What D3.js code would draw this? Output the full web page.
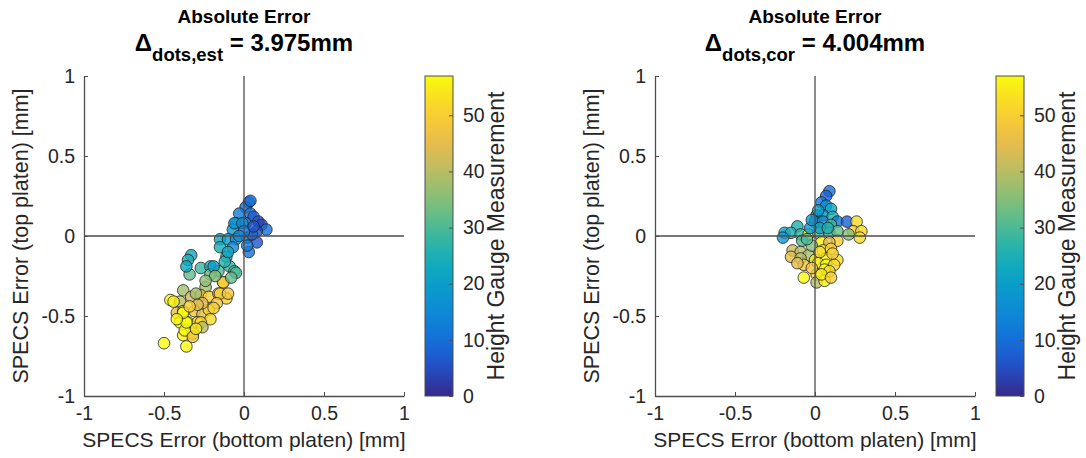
<!DOCTYPE html>
<html>
<head>
<meta charset="utf-8">
<script src="https://cdn.jsdelivr.net/npm/d3@7"></script>
<style>
  body { margin: 0; background: #fff; }
  text { font-family: "Liberation Sans", Arial, sans-serif; fill: #262626; }
</style>
</head>
<body>
<svg id="chart" width="1086" height="458"></svg>
<script>
// tick values
const axisTicks = [-1, -0.5, 0, 0.5, 1];
const cbarTicks = [0, 10, 20, 30, 40, 50];
const cbarMax = 57;

// parula colormap (sampled)
const parula = ["#352a87", "#2053d4", "#1079da", "#0c93d2", "#07a9c2", "#38b99e",
                "#7cbf7b", "#b7bd64", "#f1b94a", "#f9d32a", "#f9fb0e"];

// left panel: estimated
const estBottom = [0.03, 0.01, -0.03, 0.04, 0.06, 0.09, -0.05, 0.01, 0.11, 0.14, 0.08, -0.07, -0.15, -0.10, -0.05,
  0.02, 0.08, 0.03, -0.15, -0.11, -0.33, -0.35, -0.27, -0.34, -0.21, -0.16, -0.09, -0.06, -0.21, -0.13,
  -0.24, -0.38, -0.46, -0.40, -0.33, -0.27, -0.22, -0.16, -0.11, -0.42, -0.38, -0.31, -0.26, -0.22, -0.21,
  -0.40, -0.35, -0.29, -0.38, -0.32, -0.37, -0.50, -0.36, -0.06, -0.01, -0.07, -0.36, -0.19, -0.05, -0.13,
  -0.30, -0.15, -0.10, -0.44, -0.26, -0.17, -0.36, -0.27, -0.26, -0.32, -0.38, 0.04, 0.02, 0.05, -0.12,
  0.00, -0.03, 0.06, -0.10, -0.18, -0.08, -0.24, -0.29, -0.34, -0.19, -0.30, -0.42];
const estTop = [0.21, 0.18, 0.14, 0.14, 0.12, 0.09, 0.08, 0.08, 0.07, 0.04, 0.03, 0.04, -0.02, -0.02, -0.02,
  -0.01, -0.04, -0.10, -0.07, -0.13, -0.12, -0.15, -0.20, -0.24, -0.19, -0.22, -0.19, -0.22, -0.24, -0.29,
  -0.32, -0.34, -0.40, -0.41, -0.38, -0.37, -0.38, -0.36, -0.39, -0.48, -0.47, -0.47, -0.49, -0.46, -0.52,
  -0.54, -0.54, -0.54, -0.62, -0.61, -0.59, -0.67, -0.69, 0.08, 0.08, -0.07, -0.19, -0.19, -0.23, -0.29,
  -0.36, -0.36, -0.36, -0.41, -0.42, -0.42, -0.54, -0.54, -0.57, -0.63, -0.48, 0.22, -0.06, 0.01, -0.16,
  0.03, 0.00, 0.06, -0.10, -0.25, -0.26, -0.28, -0.43, -0.44, -0.45, -0.58, -0.52];
const estHeight = [9, 10, 12, 10, 7, 5, 15, 12, 3, 10, 5, 18, 22, 20, 17,
  10, 6, 10, 24, 25, 22, 25, 28, 32, 25, 30, 28, 30, 33, 45,
  38, 38, 57, 40, 42, 48, 50, 47, 50, 45, 55, 48, 45, 52, 52,
  57, 55, 52, 56, 56, 57, 58, 57, 18, 16, 15, 22, 20, 30, 50,
  38, 50, 48, 55, 45, 48, 57, 52, 40, 48, 57, 10, 12, 8, 26,
  12, 14, 6, 22, 35, 32, 36, 44, 50, 50, 54, 56];

// right panel: corrected
const corBottom = [0.09, 0.07, 0.04, 0.07, 0.10, 0.01, 0.05, 0.11, 0.00, 0.05, 0.14, 0.20, 0.26, 0.10, -0.11,
  0.24, 0.29, -0.19, -0.15, -0.09, -0.04, 0.02, 0.09, 0.14, 0.21, 0.28, -0.20, -0.08, 0.14, 0.04,
  0.09, -0.14, -0.09, -0.04, 0.05, 0.10, -0.15, -0.09, 0.00, 0.07, 0.14, -0.07, 0.02, 0.07, 0.12,
  0.06, 0.09, 0.01, -0.07, 0.01, 0.06, -0.02, 0.03, -0.03,
  0.02, -0.02, 0.08, -0.05, 0.03, 0.11, -0.11, 0.04, 0.10, -0.02];
const corTop = [0.28, 0.25, 0.21, 0.19, 0.17, 0.13, 0.13, 0.12, 0.09, 0.09, 0.09, 0.09, 0.09, 0.07, 0.06,
  0.03, 0.03, 0.02, 0.02, 0.01, 0.01, 0.02, 0.02, 0.03, 0.01, -0.01, -0.01, -0.03, -0.03, -0.04,
  -0.04, -0.09, -0.10, -0.12, -0.09, -0.08, -0.13, -0.14, -0.15, -0.14, -0.15, -0.18, -0.17, -0.18, -0.18,
  -0.21, -0.22, -0.24, -0.26, -0.29, -0.28, -0.06, 0.05, 0.05,
  0.16, 0.10, 0.05, -0.02, -0.10, -0.11, -0.17, -0.24, -0.26, -0.20];
const corHeight = [10, 8, 12, 15, 22, 20, 18, 25, 15, 15, 12, 8, 52, 28, 25,
  50, 52, 20, 25, 28, 57, 30, 30, 32, 35, 52, 18, 30, 50, 55,
  45, 42, 40, 38, 57, 50, 45, 40, 55, 57, 52, 48, 55, 57, 52,
  57, 52, 50, 58, 40, 55, 35, 22, 18,
  20, 18, 25, 30, 52, 50, 45, 55, 50, 48];

const panels = [
  {left: 84, sub: "dots,est", value: " = 3.975mm", xs: estBottom, ys: estTop, hs: estHeight},
  {left: 655, sub: "dots,cor", value: " = 4.004mm", xs: corBottom, ys: corTop, hs: corHeight}
];

const svg = d3.select("#chart");
const size = 320, plotTop = 76;
const color = d3.scaleSequential(d3.interpolateRgbBasis(parula)).domain([0, cbarMax]);

// shared colorbar gradient
const grad = svg.append("defs").append("linearGradient")
  .attr("id", "parula").attr("x1", 0).attr("y1", 1).attr("x2", 0).attr("y2", 0);
d3.range(0, 1.0001, 0.05).forEach(t => {
  grad.append("stop").attr("offset", t).attr("stop-color", color(t * cbarMax));
});

panels.forEach(p => {
  const x = d3.scaleLinear().domain([-1, 1]).range([p.left, p.left + size]);
  const y = d3.scaleLinear().domain([-1, 1]).range([plotTop + size, plotTop]);
  const g = svg.append("g");

  // scatter points
  const pts = p.xs.map((v, i) => ({x: v, y: p.ys[i], h: p.hs[i]}));
  g.selectAll(".dot").data(pts).enter().append("circle")
    .attr("class", "dot")
    .attr("cx", d => x(d.x))
    .attr("cy", d => y(d.y))
    .attr("r", 5.8)
    .attr("fill", d => color(d.h))
    .attr("fill-opacity", 0.8)
    .attr("stroke", "#222")
    .attr("stroke-opacity", 0.8)
    .attr("stroke-width", 1);

  // crosshair at zero
  g.append("line").attr("x1", x(0)).attr("x2", x(0)).attr("y1", y(-1)).attr("y2", y(1))
    .attr("stroke", "#4d4d4d").attr("stroke-width", 1.3);
  g.append("line").attr("x1", x(-1)).attr("x2", x(1)).attr("y1", y(0)).attr("y2", y(0))
    .attr("stroke", "#4d4d4d").attr("stroke-width", 1.3);

  // axes (ticks inside)
  const fmt = d => d === 0 ? "0" : String(d);
  const xa = g.append("g").attr("transform", `translate(0,${plotTop + size})`)
    .call(d3.axisBottom(x).tickValues(axisTicks).tickSizeInner(-4).tickSizeOuter(0).tickPadding(10).tickFormat(fmt));
  const ya = g.append("g").attr("transform", `translate(${p.left},0)`)
    .call(d3.axisLeft(y).tickValues(axisTicks).tickSizeInner(-4).tickSizeOuter(0).tickPadding(9).tickFormat(fmt));
  [xa, ya].forEach(a => {
    a.select(".domain").attr("stroke", "#4d4d4d").attr("stroke-width", 1.3);
    a.selectAll(".tick line").attr("stroke", "#4d4d4d");
    a.selectAll("text").attr("fill", "#262626").style("font-size", "19.5px")
      .style("font-family", '"Liberation Sans", Arial, sans-serif');
  });

  // axis labels
  g.append("text").attr("x", x(0)).attr("y", 447).attr("text-anchor", "middle")
    .style("font-size", "21px").text("SPECS Error (bottom platen) [mm]");
  g.append("text").attr("transform", `translate(${p.left - 56},${y(0)}) rotate(-90)`)
    .attr("text-anchor", "middle").style("font-size", "21.5px").text("SPECS Error (top platen) [mm]");

  // title
  g.append("text").attr("x", x(0)).attr("y", 23).attr("text-anchor", "middle")
    .style("font-size", "19px").style("font-weight", "bold").style("fill", "#000").text("Absolute Error");
  const t2 = g.append("text").attr("x", x(0)).attr("y", 51).attr("text-anchor", "middle")
    .style("font-size", "24px").style("font-weight", "bold").style("fill", "#000");
  t2.append("tspan").text("\u0394");
  t2.append("tspan").attr("dy", 10).style("font-size", "18.5px").text(p.sub);
  t2.append("tspan").attr("dy", -10).text(p.value);

  // colorbar
  const cx = p.left + size + 21, cw = 28;
  const c = d3.scaleLinear().domain([0, cbarMax]).range([plotTop + size, plotTop]);
  g.append("rect").attr("x", cx).attr("y", plotTop).attr("width", cw).attr("height", size)
    .attr("fill", "url(#parula)").attr("stroke", "#4d4d4d").attr("stroke-width", 1);
  const ca = g.append("g").attr("transform", `translate(${cx + cw},0)`)
    .call(d3.axisRight(c).tickValues(cbarTicks).tickSizeInner(-4).tickSizeOuter(0).tickPadding(10));
  ca.select(".domain").remove();
  ca.selectAll(".tick line").attr("stroke", "#4d4d4d");
  ca.selectAll("text").attr("fill", "#262626").style("font-size", "19.5px")
    .style("font-family", '"Liberation Sans", Arial, sans-serif');
  g.append("text").attr("transform", `translate(${cx + cw + 51},${plotTop + size / 2}) rotate(-90)`)
    .attr("text-anchor", "middle").style("font-size", "23px").text("Height Gauge Measurement");
});
</script>
</body>
</html>
